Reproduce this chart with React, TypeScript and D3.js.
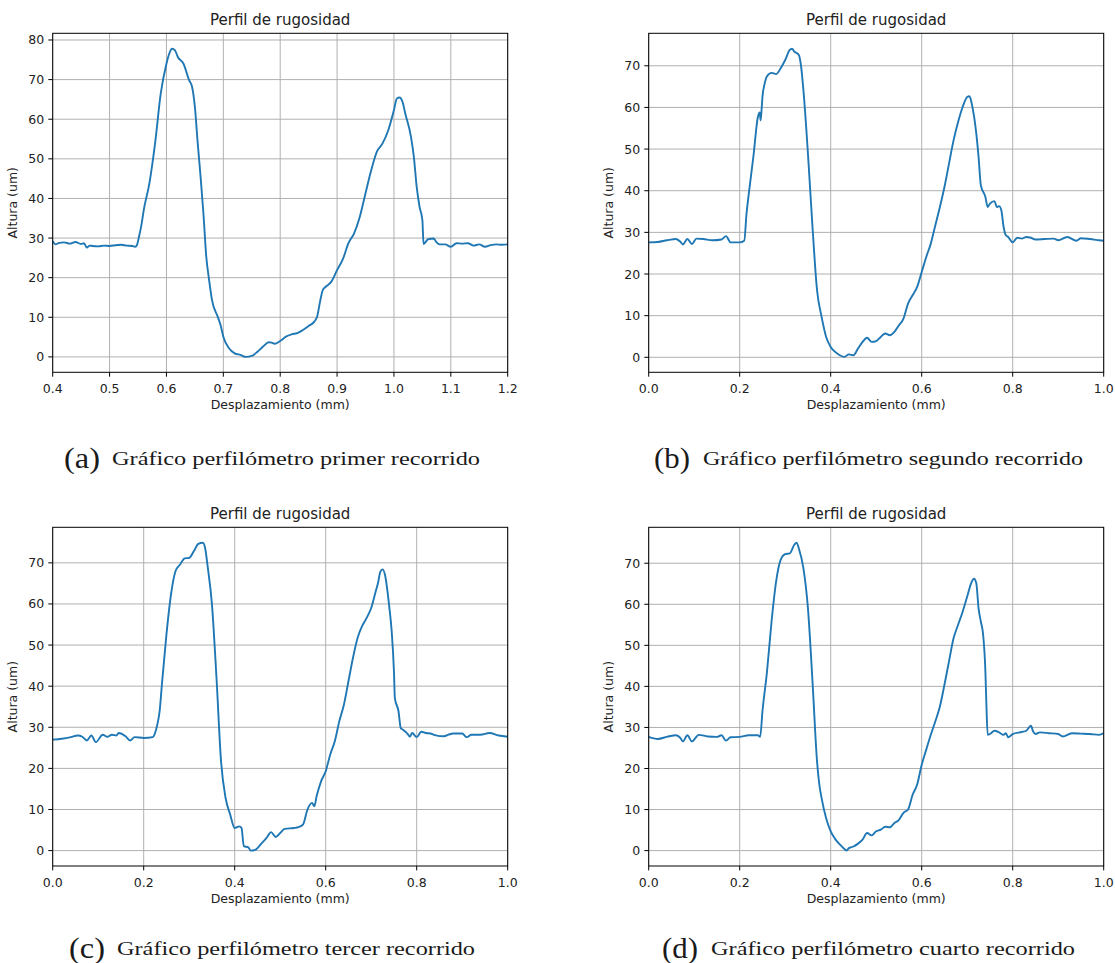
import React from 'react';
import * as d3 from 'd3';

// perfil 1 (primer recorrido) - x en mm, altura en um
const xA = [0.395, 0.4, 0.405, 0.41, 0.42, 0.43, 0.44, 0.45, 0.455, 0.46, 0.465, 0.47, 0.48, 0.49, 0.5, 0.51, 0.52, 0.53, 0.54, 0.545, 0.548, 0.552, 0.5565, 0.56, 0.57, 0.58, 0.59, 0.6, 0.605, 0.61, 0.615, 0.62, 0.63, 0.64, 0.645, 0.65, 0.655, 0.66, 0.665, 0.67, 0.675, 0.68, 0.69, 0.695, 0.7, 0.71, 0.72, 0.73, 0.74, 0.75, 0.76, 0.77, 0.78, 0.785, 0.79, 0.8, 0.81, 0.82, 0.83, 0.84, 0.85, 0.86, 0.865, 0.87, 0.875, 0.88, 0.89, 0.9, 0.91, 0.92, 0.93, 0.94, 0.95, 0.96, 0.97, 0.98, 0.99, 1.0, 1.005, 1.01, 1.015, 1.02, 1.03, 1.035, 1.04, 1.045, 1.05, 1.052, 1.06, 1.07, 1.075, 1.08, 1.09, 1.1, 1.11, 1.12, 1.13, 1.14, 1.15, 1.16, 1.17, 1.18, 1.19, 1.2];
const yA = [29.3, 29.1, 28.4, 28.7, 28.9, 28.6, 29.0, 28.5, 28.7, 27.6, 28.1, 28.0, 27.9, 28.1, 28.0, 28.2, 28.3, 28.1, 28.0, 27.8, 28.2, 30.5, 33.7, 37.0, 43.8, 53.9, 66.5, 74.0, 76.6, 77.8, 77.4, 75.7, 74.0, 69.8, 68.2, 63.1, 53.9, 45.5, 36.2, 25.3, 19.4, 14.4, 10.2, 8.1, 5.1, 2.2, 0.9, 0.5, 0.0, 0.25, 1.3, 2.6, 3.7, 3.6, 3.3, 4.0, 5.1, 5.7, 6.0, 6.8, 7.8, 8.9, 10.2, 13.9, 16.9, 17.7, 19.0, 21.9, 24.6, 28.7, 31.2, 35.4, 41.3, 47.1, 51.8, 53.9, 57.2, 62.3, 65.2, 65.5, 64.4, 61.4, 55.5, 50.5, 42.9, 37.9, 34.5, 28.5, 29.7, 29.9, 28.9, 28.4, 28.4, 27.8, 28.7, 28.6, 28.7, 28.1, 28.4, 27.8, 28.2, 28.4, 28.3, 28.4];

// perfil 2 (segundo recorrido)
const xB = [0.0, 0.02, 0.04, 0.06, 0.07, 0.075, 0.085, 0.095, 0.105, 0.12, 0.14, 0.16, 0.17, 0.18, 0.2, 0.21, 0.215, 0.22, 0.23, 0.24, 0.244, 0.246, 0.248, 0.25, 0.255, 0.26, 0.27, 0.28, 0.29, 0.3, 0.31, 0.315, 0.32, 0.33, 0.335, 0.34, 0.35, 0.36, 0.37, 0.38, 0.39, 0.4, 0.41, 0.42, 0.43, 0.44, 0.45, 0.46, 0.47, 0.48, 0.49, 0.5, 0.51, 0.52, 0.53, 0.54, 0.55, 0.56, 0.57, 0.58, 0.59, 0.6, 0.61, 0.62, 0.63, 0.64, 0.65, 0.66, 0.67, 0.68, 0.69, 0.7, 0.705, 0.71, 0.72, 0.725, 0.73, 0.74, 0.745, 0.75, 0.76, 0.765, 0.77, 0.775, 0.78, 0.785, 0.79, 0.8, 0.81, 0.82, 0.83, 0.84, 0.85, 0.87, 0.89, 0.9, 0.92, 0.94, 0.95, 0.97, 0.99, 1.0];
const yB = [27.6, 27.7, 28.1, 28.4, 27.7, 27.1, 28.4, 27.2, 28.5, 28.4, 28.1, 28.3, 29.1, 27.6, 27.6, 28.0, 34.5, 39.3, 48.1, 57.7, 58.8, 56.9, 59.3, 62.5, 65.8, 67.5, 68.3, 68.0, 69.4, 71.4, 73.8, 74.1, 73.4, 72.6, 69.8, 64.2, 48.9, 31.3, 16.1, 9.7, 4.9, 2.5, 1.3, 0.5, 0.1, 0.7, 0.5, 2.1, 3.7, 4.7, 3.7, 3.9, 4.9, 5.7, 5.3, 6.1, 7.7, 9.3, 12.9, 14.9, 16.9, 20.5, 24.1, 27.3, 31.7, 36.1, 40.9, 46.5, 52.1, 56.5, 60.1, 62.5, 62.7, 60.9, 53.7, 48.1, 41.3, 38.5, 36.1, 36.9, 37.5, 36.1, 36.3, 35.3, 31.3, 29.3, 28.9, 27.6, 28.7, 28.5, 28.9, 28.7, 28.3, 28.4, 28.5, 28.1, 28.9, 28.0, 28.6, 28.4, 28.1, 28.0];

// perfil 3 (tercer recorrido)
const xC = [0.0, 0.02, 0.04, 0.055, 0.065, 0.075, 0.085, 0.095, 0.11, 0.12, 0.13, 0.14, 0.145, 0.16, 0.17, 0.18, 0.2, 0.22, 0.225, 0.23, 0.235, 0.24, 0.25, 0.26, 0.27, 0.28, 0.29, 0.3, 0.31, 0.32, 0.33, 0.335, 0.34, 0.35, 0.36, 0.37, 0.38, 0.39, 0.4, 0.41, 0.415, 0.42, 0.43, 0.435, 0.445, 0.46, 0.47, 0.48, 0.49, 0.5, 0.51, 0.53, 0.54, 0.55, 0.56, 0.57, 0.575, 0.58, 0.59, 0.6, 0.61, 0.62, 0.63, 0.64, 0.65, 0.66, 0.67, 0.68, 0.69, 0.7, 0.71, 0.715, 0.72, 0.725, 0.73, 0.74, 0.745, 0.75, 0.752, 0.76, 0.765, 0.77, 0.78, 0.785, 0.79, 0.8, 0.81, 0.82, 0.83, 0.84, 0.86, 0.87, 0.88, 0.9, 0.91, 0.92, 0.94, 0.96, 0.98, 1.0];
const yC = [27.0, 27.2, 27.6, 28.0, 27.7, 26.8, 28.0, 26.4, 28.2, 27.7, 28.2, 28.0, 28.6, 27.8, 26.8, 27.6, 27.4, 27.6, 28.6, 30.7, 33.9, 40.4, 52.6, 62.3, 68.0, 69.6, 71.1, 71.2, 72.8, 74.6, 74.9, 73.6, 69.6, 59.9, 42.0, 21.7, 12.8, 8.8, 5.5, 5.9, 5.5, 1.1, 0.8, 0.0, 0.2, 1.9, 3.1, 4.5, 3.3, 4.3, 5.3, 5.5, 5.7, 6.3, 10.0, 11.6, 10.8, 13.2, 16.9, 19.3, 23.4, 26.6, 31.5, 35.5, 41.2, 46.9, 51.7, 54.6, 56.6, 59.0, 63.1, 65.1, 67.8, 68.4, 67.2, 59.0, 53.4, 43.6, 37.1, 33.9, 29.8, 29.4, 28.4, 27.7, 28.6, 27.6, 28.9, 28.6, 28.5, 28.1, 27.8, 28.2, 28.5, 28.5, 27.6, 28.2, 28.2, 28.6, 28.0, 27.7];

// perfil 4 (cuarto recorrido)
const xD = [0.0, 0.02, 0.04, 0.06, 0.07, 0.075, 0.085, 0.095, 0.11, 0.13, 0.15, 0.16, 0.17, 0.18, 0.2, 0.22, 0.24, 0.245, 0.25, 0.26, 0.27, 0.28, 0.29, 0.3, 0.31, 0.32, 0.325, 0.33, 0.34, 0.35, 0.36, 0.37, 0.375, 0.38, 0.39, 0.4, 0.41, 0.42, 0.43, 0.435, 0.44, 0.45, 0.46, 0.47, 0.48, 0.49, 0.5, 0.51, 0.52, 0.53, 0.54, 0.55, 0.56, 0.57, 0.58, 0.59, 0.6, 0.61, 0.62, 0.63, 0.64, 0.65, 0.66, 0.67, 0.68, 0.69, 0.7, 0.71, 0.715, 0.72, 0.725, 0.73, 0.735, 0.74, 0.742, 0.745, 0.75, 0.76, 0.77, 0.78, 0.785, 0.79, 0.8, 0.82, 0.83, 0.84, 0.845, 0.85, 0.86, 0.88, 0.9, 0.91, 0.93, 0.95, 0.97, 0.99, 1.0];
const yD = [27.7, 27.2, 27.7, 28.1, 27.4, 26.6, 28.1, 26.6, 28.2, 27.8, 27.7, 28.1, 26.8, 27.6, 27.7, 28.1, 28.1, 27.7, 33.9, 43.6, 55.8, 65.5, 70.8, 72.2, 72.4, 74.5, 75.0, 73.6, 68.8, 59.0, 41.2, 21.7, 16.1, 12.8, 7.9, 4.7, 2.8, 1.5, 0.4, 0.0, 0.6, 1.0, 1.7, 2.7, 4.3, 3.7, 4.7, 5.1, 5.8, 5.7, 6.7, 7.5, 9.2, 10.0, 13.6, 16.1, 20.9, 24.6, 28.2, 31.5, 35.1, 40.4, 46.1, 51.7, 55.0, 58.2, 61.9, 65.5, 66.2, 65.1, 59.0, 55.8, 52.6, 43.6, 36.3, 28.2, 28.4, 29.2, 28.8, 28.2, 28.6, 27.6, 28.4, 28.9, 29.2, 30.4, 29.0, 28.4, 28.8, 28.6, 28.4, 27.8, 28.6, 28.5, 28.4, 28.2, 28.6];

const ticksXA = [0.4, 0.5, 0.6, 0.7, 0.8, 0.9, 1.0, 1.1, 1.2];
const ticksX = [0.0, 0.2, 0.4, 0.6, 0.8, 1.0];
const ticksYA = [0, 10, 20, 30, 40, 50, 60, 70, 80];
const ticksY = [0, 10, 20, 30, 40, 50, 60, 70];

const captions = [
  'Gráfico perfilómetro primer recorrido',
  'Gráfico perfilómetro segundo recorrido',
  'Gráfico perfilómetro tercer recorrido',
  'Gráfico perfilómetro cuarto recorrido',
];

const FONT = 'DejaVu Sans';

function Panel({xs, ys, xDomain, xTicks, yTicks, left, top, width, height, id}) {
  // margen del 5% como matplotlib
  const lo = d3.min(ys), hi = d3.max(ys);
  const pad = (hi - lo) * 0.05;
  const x = d3.scaleLinear().domain(xDomain).range([left, left + width]);
  const y = d3.scaleLinear().domain([lo - pad, hi + pad]).range([top + height, top]);
  const pts = xs.map((v, i) => [v, ys[i]]);
  const line = d3.line().x(d => x(d[0])).y(d => y(d[1])).curve(d3.curveMonotoneX);
  const bottom = top + height;
  return (
    <g>
      <defs>
        <clipPath id={id}>
          <rect x={left} y={top} width={width} height={height} />
        </clipPath>
      </defs>
      {xTicks.map(t => (
        <line key={'gx' + t} x1={x(t)} x2={x(t)} y1={top} y2={bottom} stroke="#b0b0b0" strokeWidth={1} />
      ))}
      {yTicks.map(t => (
        <line key={'gy' + t} x1={left} x2={left + width} y1={y(t)} y2={y(t)} stroke="#b0b0b0" strokeWidth={1} />
      ))}
      <path d={line(pts)} fill="none" stroke="#1f77b4" strokeWidth={1.9} strokeLinejoin="round" clipPath={`url(#${id})`} />
      <rect x={left} y={top} width={width} height={height} fill="none" stroke="#000" strokeWidth={1} />
      {xTicks.map(t => (
        <g key={'tx' + t}>
          <line x1={x(t)} x2={x(t)} y1={bottom} y2={bottom + 4.4} stroke="#000" />
          <text x={x(t)} y={bottom + 21} textAnchor="middle" fontSize={12.5} fontFamily={FONT} fill="#222">{t.toFixed(1)}</text>
        </g>
      ))}
      {yTicks.map(t => (
        <g key={'ty' + t}>
          <line x1={left - 4.4} x2={left} y1={y(t)} y2={y(t)} stroke="#000" />
          <text x={left - 8.5} y={y(t)} dy="0.36em" textAnchor="end" fontSize={12.5} fontFamily={FONT} fill="#222">{t}</text>
        </g>
      ))}
      <text x={left + width / 2} y={top - 8} textAnchor="middle" fontSize={15} fontFamily={FONT} fill="#222">Perfil de rugosidad</text>
      <text x={left + width / 2} y={bottom + 37} textAnchor="middle" fontSize={12.5} fontFamily={FONT} fill="#222">Desplazamiento (mm)</text>
      <text transform={`translate(${left - 36},${top + height / 2}) rotate(-90)`} textAnchor="middle" fontSize={12.5} fontFamily={FONT} fill="#222">Altura (um)</text>
    </g>
  );
}

function Caption({letter, text, x, tx, y, len}) {
  return (
    <g fontFamily="Liberation Serif, DejaVu Serif, serif" fill="#1a1a1a">
      <text x={x} y={y + 3} fontSize={30} textLength={36} lengthAdjust="spacingAndGlyphs">({letter})</text>
      <text x={tx} y={y} fontSize={19} textLength={len} lengthAdjust="spacingAndGlyphs">{text}</text>
    </g>
  );
}

export default function App() {
  const W = 455, H = 339;
  return (
    <svg width={1115} height={963} style={{position: 'absolute', left: 0, top: 0, background: '#fff'}}>
      <rect width={1115} height={963} fill="#fff" />
      <Panel id="cA" xs={xA} ys={yA} xDomain={[0.4, 1.2]} xTicks={ticksXA} yTicks={ticksYA} left={52.7} top={33.3} width={W} height={H} />
      <Panel id="cB" xs={xB} ys={yB} xDomain={[0, 1]} xTicks={ticksX} yTicks={ticksY} left={648.7} top={33.3} width={W} height={H} />
      <Panel id="cC" xs={xC} ys={yC} xDomain={[0, 1]} xTicks={ticksX} yTicks={ticksY} left={52.7} top={527.3} width={W} height={338.7} />
      <Panel id="cD" xs={xD} ys={yD} xDomain={[0, 1]} xTicks={ticksX} yTicks={ticksY} left={648.7} top={527.3} width={W} height={338.7} />
      <Caption letter="a" text={captions[0]} x={64} tx={112} y={465} len={368} />
      <Caption letter="b" text={captions[1]} x={654} tx={703} y={465} len={380} />
      <Caption letter="c" text={captions[2]} x={69} tx={117} y={955} len={358} />
      <Caption letter="d" text={captions[3]} x={662} tx={711} y={955} len={364} />
    </svg>
  );
}
